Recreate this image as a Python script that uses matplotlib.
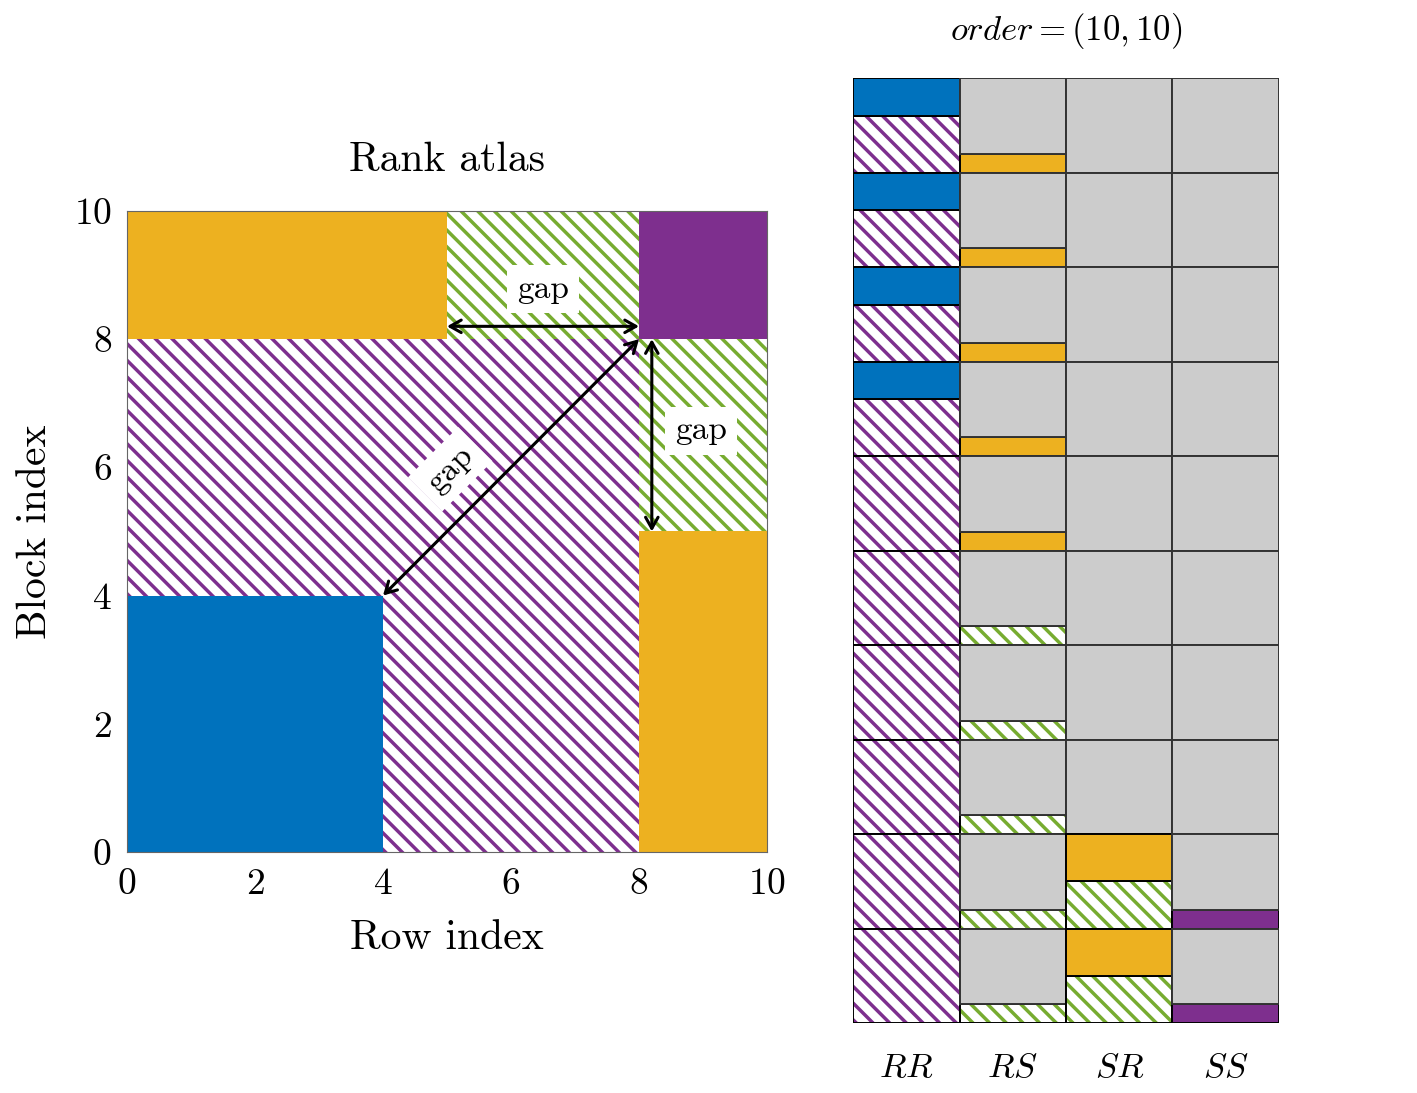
import matplotlib
matplotlib.use("Agg")
import matplotlib.pyplot as plt
from matplotlib.patches import Rectangle

plt.rcParams['font.family'] = 'serif'
plt.rcParams['font.serif'] = ['cmr10', 'DejaVu Serif']
plt.rcParams['mathtext.fontset'] = 'cm'
plt.rcParams['axes.formatter.use_mathtext'] = True
plt.rcParams['hatch.linewidth'] = 2.5

# colours for each kind of block
colors = {'blue': '#0072BD', 'yellow': '#EDB120', 'purple': '#7E2F8E',
          'green': '#77AC30', 'gray': '#CCCCCC'}
hatched = {'purple_h': 'purple', 'green_h': 'green'}

# left panel: rank atlas regions (x0, y0, width, height, kind)
atlas_x0 = [0, 5, 8, 0, 4, 0, 8, 8]
atlas_y0 = [8, 8, 8, 4, 0, 0, 5, 0]
atlas_w = [5, 3, 2, 8, 4, 4, 2, 2]
atlas_h = [2, 2, 2, 4, 4, 4, 3, 5]
atlas_kind = ['yellow', 'green_h', 'purple', 'purple_h', 'purple_h', 'blue',
              'green_h', 'yellow']

# gap arrows: start, end, label position, label rotation
gap_start = [(5, 8.2), (8.2, 8), (4, 4)]
gap_end = [(8, 8.2), (8.2, 5), (8, 8)]
gap_label = [(6.5, 8.78), (8.97, 6.57), (5.05, 5.97)]
gap_rot = [0, 0, 45]

# right panel: fractions (bottom to top) per cell, 10 rows x 4 columns
col_labels = ['$RR$', '$RS$', '$SR$', '$SS$']
rr_frac = [[0.6, 0.4]] * 4 + [[1.0]] * 6
rr_kind = [['purple_h', 'blue']] * 4 + [['purple_h']] * 6
rs_frac = [[0.2, 0.8]] * 10
rs_kind = [['yellow', 'gray']] * 5 + [['green_h', 'gray']] * 5
sr_frac = [[1.0]] * 8 + [[0.5, 0.5]] * 2
sr_kind = [['gray']] * 8 + [['green_h', 'yellow']] * 2
ss_frac = [[1.0]] * 8 + [[0.2, 0.8]] * 2
ss_kind = [['gray']] * 8 + [['purple', 'gray']] * 2


def add_block(ax, x, y, w, h, kind, edge=None, lw=0.0):
    if kind in hatched:
        ax.add_patch(Rectangle((x, y), w, h, facecolor='white',
                               edgecolor=colors[hatched[kind]], hatch='\\\\',
                               linewidth=0))
    else:
        ax.add_patch(Rectangle((x, y), w, h, facecolor=colors[kind],
                               edgecolor='none', linewidth=0))
    if edge is not None:
        ax.add_patch(Rectangle((x, y), w, h, fill=False, edgecolor=edge,
                               linewidth=lw))


fig = plt.figure(figsize=(14.17, 10.93), dpi=100)

# ---- left panel ----
ax = fig.add_axes([0.0896, 0.2205, 0.4517, 0.5865])
for x, y, w, h, k in zip(atlas_x0, atlas_y0, atlas_w, atlas_h, atlas_kind):
    add_block(ax, x, y, w, h, k)
for s, e, p, r in zip(gap_start, gap_end, gap_label, gap_rot):
    ax.annotate('', xy=e, xytext=s,
                arrowprops=dict(arrowstyle='<->,head_length=0.8,head_width=0.45',
                                lw=2.2, color='black', shrinkA=0, shrinkB=0))
    ax.text(p[0], p[1], 'gap', fontsize=24, rotation=r, ha='center',
            va='center', bbox=dict(facecolor='white', edgecolor='none',
                                   pad=7))
ax.set_xlim(0, 10)
ax.set_ylim(0, 10)
ax.set_xticks([0, 2, 4, 6, 8, 10])
ax.set_yticks([0, 2, 4, 6, 8, 10])
ax.tick_params(labelsize=27, length=0, pad=11)
for sp in ax.spines.values():
    sp.set_color('#666666')
    sp.set_linewidth(0.8)
ax.set_xlabel('Row index', fontsize=30, labelpad=14)
ax.set_ylabel('Block index', fontsize=30, labelpad=14)
ax.set_title('Rank atlas', fontsize=30, pad=29)

# ---- right panel ----
ax2 = fig.add_axes([0.602, 0.064, 0.3006, 0.8646])
columns = [(rr_frac, rr_kind), (rs_frac, rs_kind), (sr_frac, sr_kind),
           (ss_frac, ss_kind)]
for j, (fr, kd) in enumerate(columns):
    for i in range(10):
        bottom = i + 1
        for f, k in zip(fr[i], kd[i]):
            edge = '#333333' if k == 'gray' else 'black'
            add_block(ax2, j, bottom - f, 1, f, k, edge=edge, lw=1.4)
            bottom -= f
ax2.set_xlim(0, 4)
ax2.set_ylim(10, 0)
ax2.axis('off')
for j, lab in enumerate(col_labels):
    ax2.text(j + 0.5, 10.48, lab, fontsize=25, ha='center', va='center')
ax2.text(2, -0.5, '$order = (10, 10)$', fontsize=25, ha='center',
         va='center')

fig.savefig('out.png', dpi=100)
